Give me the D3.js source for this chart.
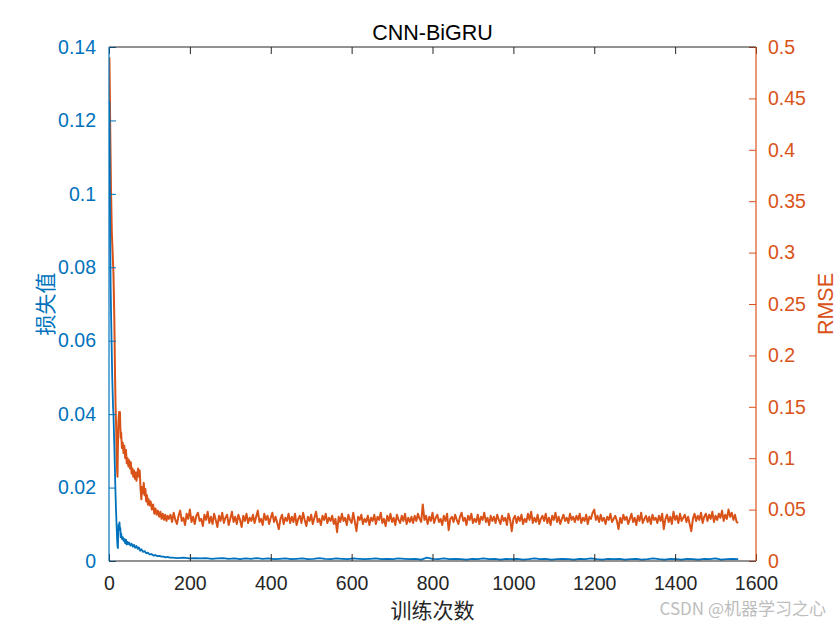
<!DOCTYPE html>
<html><head><meta charset="utf-8">
<script src="https://cdn.jsdelivr.net/npm/d3@7"></script>
<style>body{margin:0;background:#fff}svg{display:block}text{font-family:"Liberation Sans",Arial,sans-serif}</style>
</head><body>
<script>
// ---- data ----
const titleText = "CNN-BiGRU";
const xTicks = [0,200,400,600,800,1000,1200,1400,1600];
const leftTicks = [0,0.02,0.04,0.06,0.08,0.1,0.12,0.14];
const rightTicks = [0,0.05,0.1,0.15,0.2,0.25,0.3,0.35,0.4,0.45,0.5];

// RMSE, early phase (iteration, value)
const rmseEarlyIter = [1,2,3,4,5,6,7,8,9,10,11,12,13,14,15,16,17,18,19,20,21,22,23,24,25,26,27,28,29,30,32,34,36,38,40,42,44,46,48,50,52,54,56,58,60,62,64,66,68,70,72,74,76,78,80,82,84,86,88,90,92,94,96,98,100,103,106,109,112,115,118,121,124,127,130,133,136,139,142,145,148];
const rmseEarly = [0.49,0.46,0.42,0.39,0.36,0.34,0.32,0.31,0.30,0.29,0.28,0.26,0.24,0.21,0.18,0.155,0.14,0.125,0.10,0.088,0.082,0.11,0.13,0.14,0.145,0.135,0.145,0.13,0.12,0.125,0.11,0.115,0.105,0.112,0.10,0.108,0.095,0.10,0.092,0.098,0.09,0.096,0.085,0.09,0.082,0.088,0.08,0.086,0.078,0.085,0.09,0.082,0.088,0.07,0.06,0.072,0.066,0.076,0.064,0.07,0.058,0.064,0.055,0.06,0.054,0.058,0.05,0.055,0.046,0.051,0.045,0.049,0.043,0.048,0.041,0.046,0.040,0.045,0.039,0.044,0.041];
// RMSE, steady phase: iterations 152, 156, ... 1556
const rmseTailStart = 152, rmseTailStep = 4;
const rmseTail = [
.045,.038,.047,.040,.036,.044,.049,.039,.042,.035,.046,.041,.050,.038,.043,.036,.044,.047,.039,.041,.034,.045,.040,.048,.037,
.043,.036,.046,.040,.033,.044,.039,.047,.037,.042,.045,.035,.041,.048,.038,.043,.036,.045,.040,.033,.044,.039,.046,.037,.042,
.039,.045,.037,.043,.049,.038,.041,.035,.046,.040,.044,.036,.042,.047,.038,.043,.037,.031,.041,.045,.036,.042,.039,.046,.037,
.043,.038,.046,.035,.041,.044,.037,.047,.040,.034,.043,.039,.045,.036,.042,.048,.038,.041,.035,.044,.040,.046,.037,.042,.039,
.044,.036,.041,.028,.043,.038,.046,.039,.042,.035,.045,.040,.037,.047,.038,.029,.043,.040,.045,.036,.041,.038,.044,.035,.042,
.039,.045,.036,.043,.040,.047,.037,.041,.034,.044,.039,.046,.038,.042,.035,.045,.040,.037,.044,.039,.046,.036,.042,.038,.043,
.037,.044,.039,.046,.041,.038,.055,.040,.044,.036,.043,.039,.047,.037,.042,.045,.038,.041,.035,.044,.039,.046,.030,.041,.043,
.038,.045,.040,.036,.043,.047,.039,.042,.035,.044,.040,.046,.037,.041,.038,.045,.036,.043,.040,.047,.038,.042,.035,.044,.039,
.043,.037,.045,.040,.036,.044,.039,.042,.035,.046,.040,.029,.041,.044,.037,.043,.039,.045,.036,.041,.038,.046,.040,.048,.037,
.042,.038,.045,.036,.041,.044,.039,.046,.037,.042,.035,.044,.040,.047,.038,.043,.036,.041,.045,.039,.042,.037,.046,.040,.043,
.038,.044,.040,.046,.037,.042,.039,.045,.036,.043,.041,.047,.050,.040,.044,.038,.045,.039,.042,.036,.043,.040,.046,.038,.041,
.044,.039,.031,.042,.037,.045,.040,.043,.036,.041,.046,.038,.042,.035,.044,.039,.047,.037,.041,.044,.038,.043,.036,.045,.040,
.042,.037,.044,.039,.046,.031,.041,.045,.038,.043,.036,.048,.040,.044,.037,.046,.039,.042,.045,.038,.043,.036,.029,.041,.046,
.039,.044,.040,.047,.037,.043,.046,.039,.045,.041,.048,.038,.044,.040,.046,.042,.049,.039,.045,.041,.050,.043,.047,.040,.045,
.038,.037];

// Loss, early phase (iteration, value)
const lossEarlyIter = [1,2,3,4,5,6,7,8,9,10,11,12,13,14,15,16,17,18,19,20,21,22,23,24,25,26,27,28,29,30,32,34,36,38,40,42,44,46,48,50,53,56,59,62,65,68,71,74,77,80,84,88,92,96,100,105,110,115,120,125,130,135,140,145,150];
const lossEarly = [0.125,0.105,0.088,0.075,0.068,0.062,0.056,0.050,0.046,0.042,0.040,0.036,0.032,0.028,0.023,0.019,0.015,0.012,0.009,0.006,0.004,0.0035,0.008,0.010,0.0095,0.0105,0.0085,0.009,0.0065,0.0075,0.006,0.0065,0.0055,0.006,0.0048,0.0058,0.0045,0.0052,0.0046,0.0050,0.0042,0.0047,0.0039,0.0044,0.0036,0.0041,0.0033,0.0037,0.0028,0.0032,0.0025,0.0027,0.0021,0.0023,0.0018,0.0019,0.0015,0.0016,0.0013,0.0014,0.0012,0.0012,0.0010,0.0011,0.0009];
// Loss, steady phase: iterations 156, 170, ... 1556
const lossTailStart = 156, lossTailStep = 14;
const lossTail = [
.0009,.0008,.0009,.0007,.0008,.0007,.0008,.0006,.0007,.0008,
.0006,.0007,.0005,.0007,.0006,.0008,.0006,.0007,.0005,.0006,
.0007,.0005,.0006,.0007,.0005,.0006,.0008,.0006,.0005,.0007,
.0006,.0005,.0007,.0006,.0005,.0006,.0007,.0005,.0006,.0005,
.0007,.0006,.0005,.0006,.0004,.0009,.0006,.0005,.0007,.0005,
.0006,.0005,.0004,.0006,.0005,.0007,.0005,.0006,.0004,.0006,
.0005,.0006,.0004,.0005,.0007,.0005,.0006,.0004,.0005,.0006,
.0005,.0004,.0006,.0005,.0007,.0005,.0004,.0006,.0005,.0006,
.0004,.0005,.0006,.0004,.0005,.0007,.0005,.0004,.0006,.0005,
.0004,.0006,.0005,.0004,.0006,.0005,.0007,.0004,.0005,.0006,
.0005];

const xLabel = "训练次数", leftLabel = "损失值", rightLabel = "RMSE", watermark = "CSDN @机器学习之心";

// ---- build series ----
const rmseData = rmseEarlyIter.map((it,i)=>[it,rmseEarly[i]])
  .concat(rmseTail.map((v,i)=>[rmseTailStart+i*rmseTailStep,v]));
const lossData = lossEarlyIter.map((it,i)=>[it,lossEarly[i]])
  .concat(lossTail.map((v,i)=>[lossTailStart+i*lossTailStep,v]));

// ---- layout ----
const W=840,H=630, L=109, R=756, T=47, B=561;
const BLUE="#0072BD", ORANGE="#D95319", DARK="#262626";
const svg=d3.select("body").append("svg").attr("width",W).attr("height",H);

const x=d3.scaleLinear().domain([0,1600]).range([L,R]);
const yL=d3.scaleLinear().domain([0,0.14]).range([B,T]);
const yR=d3.scaleLinear().domain([0,0.5]).range([B,T]);

svg.append("defs").append("clipPath").attr("id","clip")
  .append("rect").attr("x",L).attr("y",T-1).attr("width",R-L).attr("height",B-T+2);

const g=svg.append("g").attr("clip-path","url(#clip)");
g.append("path").datum(rmseData)
  .attr("d",d3.line().x(d=>x(d[0])).y(d=>yR(d[1])))
  .attr("fill","none").attr("stroke",ORANGE).attr("stroke-width",2).attr("stroke-linejoin","round");
g.append("path").datum(lossData)
  .attr("d",d3.line().x(d=>x(d[0])).y(d=>yL(d[1])))
  .attr("fill","none").attr("stroke",BLUE).attr("stroke-width",1.8).attr("stroke-linejoin","round");

const fs=19.5;
function styleAxis(sel,color){
  sel.select(".domain").remove();
  sel.selectAll(".tick line").attr("stroke",color);
  sel.selectAll(".tick text").attr("fill",color).style("font-size",fs+"px").style("font-family","'Liberation Sans',Arial,sans-serif");
}
// bottom axis
const xb=svg.append("g").attr("transform",`translate(0,${B})`)
  .call(d3.axisBottom(x).tickValues(xTicks).tickFormat(d3.format("d")).tickSizeInner(-7).tickSizeOuter(0).tickPadding(15));
styleAxis(xb,DARK);
// top axis (ticks only)
const xt=svg.append("g").attr("transform",`translate(0,${T})`)
  .call(d3.axisTop(x).tickValues(xTicks).tickFormat("").tickSizeInner(-7).tickSizeOuter(0));
styleAxis(xt,DARK);
// left axis
const yl=svg.append("g").attr("transform",`translate(${L},0)`)
  .call(d3.axisLeft(yL).tickValues(leftTicks).tickFormat(d=>d3.format("")(+d.toFixed(2))).tickSizeInner(-7).tickSizeOuter(0).tickPadding(13));
styleAxis(yl,BLUE);
// right axis
const yr=svg.append("g").attr("transform",`translate(${R},0)`)
  .call(d3.axisRight(yR).tickValues(rightTicks).tickFormat(d=>d3.format("")(+d.toFixed(2))).tickSizeInner(-7).tickSizeOuter(0).tickPadding(12));
styleAxis(yr,ORANGE);

// box lines
svg.append("line").attr("x1",L).attr("x2",R).attr("y1",B).attr("y2",B).attr("stroke",DARK).attr("stroke-width",1.2);
svg.append("line").attr("x1",L).attr("x2",R).attr("y1",T).attr("y2",T).attr("stroke",DARK).attr("stroke-width",1.2);
svg.append("line").attr("x1",L).attr("x2",L).attr("y1",T).attr("y2",B).attr("stroke",BLUE).attr("stroke-width",1.2);
svg.append("line").attr("x1",R).attr("x2",R).attr("y1",T).attr("y2",B).attr("stroke",ORANGE).attr("stroke-width",1.2);

// title
svg.append("text").attr("x",(L+R)/2).attr("y",40).attr("text-anchor","middle")
  .attr("fill","#000").style("font-size","21.5px").text(titleText);
// x label
svg.append("text").attr("x",(L+R)/2).attr("y",618).attr("text-anchor","middle")
  .attr("fill",DARK).style("font-size","21px").style("font-family","'Noto Sans CJK SC',sans-serif").text(xLabel);
// left label
svg.append("text").attr("transform",`translate(53,${(T+B)/2}) rotate(-90)`).attr("text-anchor","middle")
  .attr("fill",BLUE).style("font-size","21px").style("font-family","'Noto Sans CJK SC',sans-serif").text(leftLabel);
// right label
svg.append("text").attr("transform",`translate(833,${(T+B)/2}) rotate(-90)`).attr("text-anchor","middle")
  .attr("fill",ORANGE).style("font-size","21.5px").text(rightLabel);
// watermark
svg.append("text").attr("x",826).attr("y",615).attr("text-anchor","end")
  .attr("fill","#bdbdbd").style("font-size","17px").style("font-family","'Noto Sans CJK SC',sans-serif").text(watermark);
</script>
</body></html>
